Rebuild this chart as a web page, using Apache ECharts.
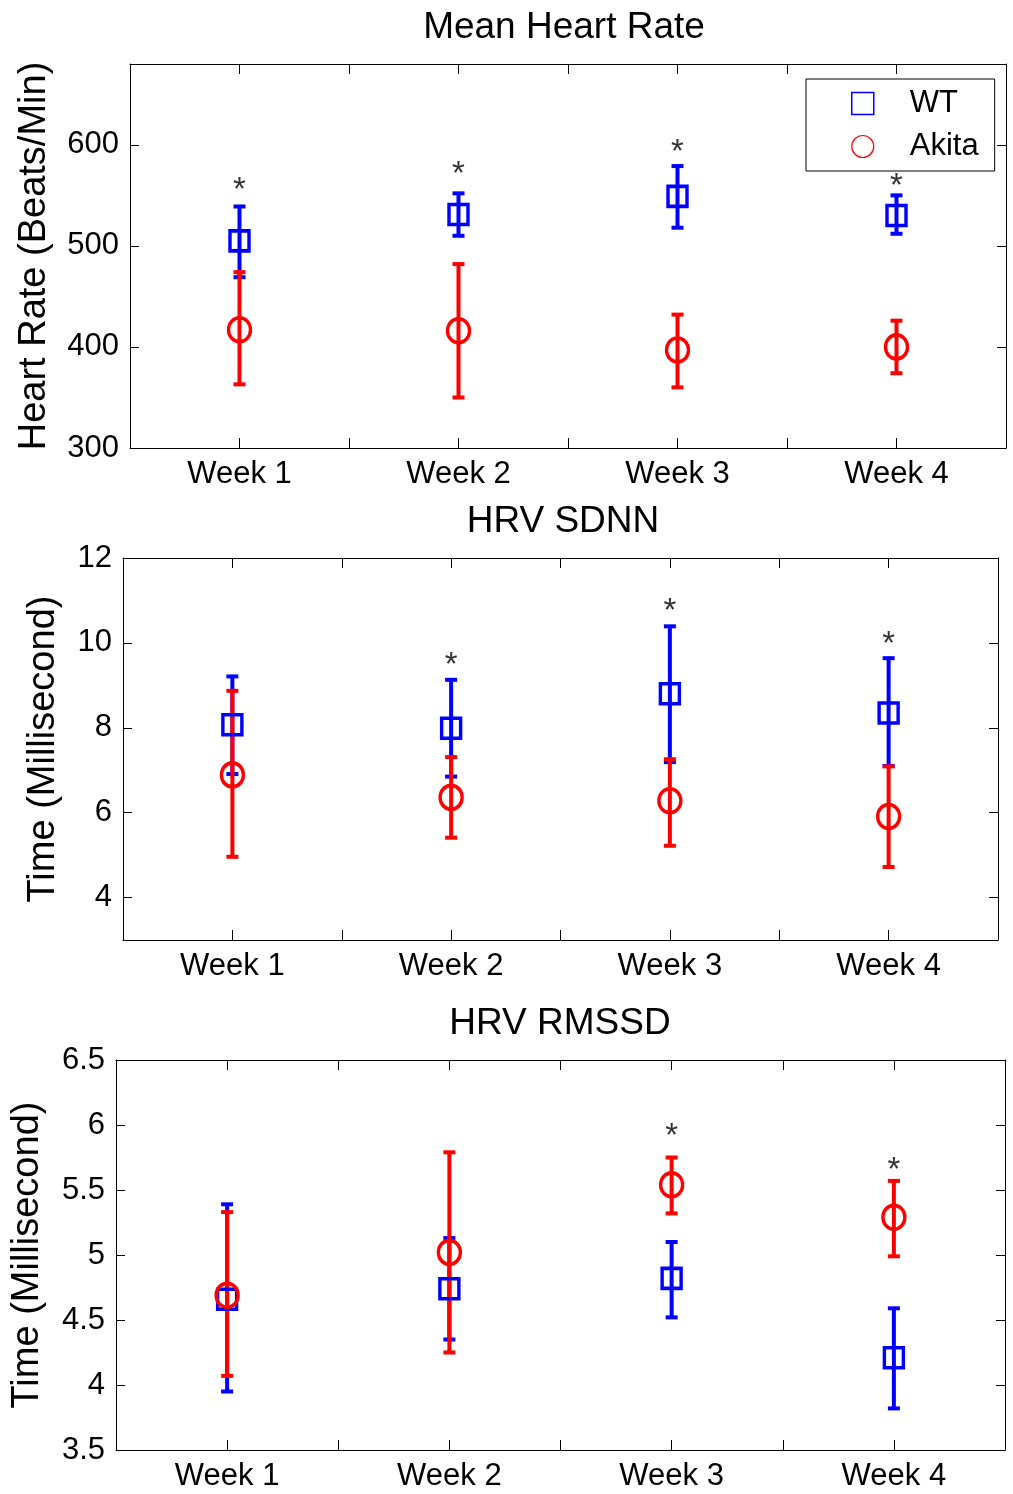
<!DOCTYPE html>
<html>
<head>
<meta charset="utf-8">
<script src="https://cdn.jsdelivr.net/npm/echarts@6/dist/echarts.min.js"></script>
<style>
html,body{margin:0;padding:0;background:#fff;}
#chart{width:1013px;height:1494px;}
</style>
</head>
<body>
<div id="chart"></div>
<script>
// ---------- data ----------
const weeks = ['Week 1', 'Week 2', 'Week 3', 'Week 4'];
const weekPos = [1, 2, 3, 4];
const seriesNames = ['WT', 'Akita'];

// Mean Heart Rate (Beats/Min)
const hrWtMean = [505, 531, 549, 530];
const hrWtLow  = [469, 510, 518, 512];
const hrWtHigh = [539, 552, 579, 550];
const hrAkMean = [417, 416, 397, 400];
const hrAkLow  = [363, 350, 360, 374];
const hrAkHigh = [474, 482, 432, 426];
const hrSig    = [562, 578, 600, 566];
const hrTicks  = [300, 400, 500, 600];

// HRV SDNN (ms)
const sdWtMean = [8.07, 7.99, 8.80, 8.35];
const sdWtLow  = [6.91, 6.85, 7.19, 7.10];
const sdWtHigh = [9.21, 9.13, 10.39, 9.64];
const sdAkMean = [6.89, 6.36, 6.28, 5.91];
const sdAkLow  = [4.96, 5.41, 5.22, 4.72];
const sdAkHigh = [8.87, 7.31, 7.26, 7.09];
const sdSig    = [null, 9.65, 10.93, 10.14];
const sdTicks  = [4, 6, 8, 10, 12];

// HRV RMSSD (ms)
const rmWtMean = [4.66, 4.74, 4.82, 4.21];
const rmWtLow  = [3.95, 4.35, 4.52, 3.82];
const rmWtHigh = [5.39, 5.13, 5.10, 4.59];
const rmAkMean = [4.69, 5.02, 5.54, 5.29];
const rmAkLow  = [4.07, 4.25, 5.32, 4.99];
const rmAkHigh = [5.33, 5.79, 5.75, 5.57];
const rmSig    = [null, null, 5.97, 5.71];
const rmTicks  = [3.5, 4, 4.5, 5, 5.5, 6, 6.5];

// ---------- styling ----------
const FONT = "'Liberation Sans', Arial, sans-serif";
const BLUE = '#0000FF';
const RED = '#FF0000';

const panels = [
  { title: 'Mean Heart Rate', yName: 'Heart Rate (Beats/Min)',
    grid: {left: 130, top: 64, width: 876, height: 384},
    yMin: 300, yMax: 680, ticks: hrTicks, nameGap: 76, titleX: 559, titleTop: 4,
    wt: [hrWtMean, hrWtLow, hrWtHigh], ak: [hrAkMean, hrAkLow, hrAkHigh], sig: hrSig },
  { title: 'HRV SDNN', yName: 'Time (Millisecond)',
    grid: {left: 123, top: 558, width: 875, height: 382},
    yMin: 3, yMax: 12, ticks: sdTicks, nameGap: 60, titleX: 558, titleTop: 498,
    wt: [sdWtMean, sdWtLow, sdWtHigh], ak: [sdAkMean, sdAkLow, sdAkHigh], sig: sdSig },
  { title: 'HRV RMSSD', yName: 'Time (Millisecond)',
    grid: {left: 116, top: 1060, width: 889, height: 390},
    yMin: 3.5, yMax: 6.5, ticks: rmTicks, nameGap: 69, titleX: 555, titleTop: 1000,
    wt: [rmWtMean, rmWtLow, rmWtHigh], ak: [rmAkMean, rmAkLow, rmAkHigh], sig: rmSig }
];

const grids = [], xAxes = [], yAxes = [], series = [], titles = [];

function errRender(color) {
  return function (params, api) {
    const x = api.value(0);
    const lo = api.coord([x, api.value(1)]);
    const hi = api.coord([x, api.value(2)]);
    const cw = 6;
    const st = {stroke: color, lineWidth: 4, lineCap: 'butt'};
    return {
      type: 'group',
      children: [
        {type: 'line', shape: {x1: lo[0], y1: lo[1], x2: hi[0], y2: hi[1]}, style: st},
        {type: 'line', shape: {x1: hi[0] - cw, y1: hi[1], x2: hi[0] + cw, y2: hi[1]}, style: st},
        {type: 'line', shape: {x1: lo[0] - cw, y1: lo[1], x2: lo[0] + cw, y2: lo[1]}, style: st}
      ]
    };
  };
}

panels.forEach((p, i) => {
  grids.push(Object.assign({containLabel: false}, p.grid));
  titles.push({
    text: p.title, left: p.titleX, top: p.titleTop, textAlign: 'center',
    textStyle: {fontFamily: FONT, fontSize: 37, fontWeight: 'normal', color: '#000'}
  });
  const xBase = {
    type: 'value', gridIndex: i, min: 0.5, max: 4.5, interval: 0.5,
    axisLine: {show: true, lineStyle: {color: '#000', width: 1}},
    axisTick: {show: true, inside: true, length: 10, lineStyle: {color: '#000', width: 1}},
    splitLine: {show: false}
  };
  xAxes.push(Object.assign({}, xBase, {
    position: 'bottom',
    axisLabel: {
      show: true, margin: 11, color: '#000', fontFamily: FONT, fontSize: 31,
      formatter: v => (Number.isInteger(v) && v >= 1 && v <= 4) ? weeks[v - 1] : ''
    }
  }));
  xAxes.push(Object.assign({}, xBase, {position: 'top', axisLabel: {show: false}}));

  const yBase = {
    type: 'value', gridIndex: i, min: p.yMin, max: p.yMax,
    axisLine: {show: true, lineStyle: {color: '#000', width: 1}},
    axisTick: {show: true, inside: true, length: 9, customValues: p.ticks, lineStyle: {color: '#000', width: 1}},
    splitLine: {show: false}
  };
  yAxes.push(Object.assign({}, yBase, {
    position: 'left',
    name: p.yName, nameLocation: 'middle', nameGap: p.nameGap, nameRotate: 90,
    nameTextStyle: {fontFamily: FONT, fontSize: 38, color: '#000'},
    axisLabel: {show: true, margin: 11, color: '#000', fontFamily: FONT, fontSize: 31, customValues: p.ticks}
  }));
  yAxes.push(Object.assign({}, yBase, {position: 'right', axisLabel: {show: false}}));

  const xi = i * 2, yi = i * 2;
  const groups = [
    {name: 'WT', color: BLUE, d: p.wt, symbol: 'rect', size: [19, 20]},
    {name: 'Akita', color: RED, d: p.ak, symbol: 'circle', size: [22, 24]}
  ];
  groups.forEach(g => {
    series.push({
      type: 'custom', name: g.name, xAxisIndex: xi, yAxisIndex: yi,
      renderItem: errRender(g.color), itemStyle: {color: g.color},
      encode: {x: 0, y: [1, 2]},
      data: weekPos.map((x, k) => [x, g.d[1][k], g.d[2][k]]),
      silent: true, z: 2
    });
    series.push({
      type: 'scatter', name: g.name, xAxisIndex: xi, yAxisIndex: yi,
      symbol: g.symbol, symbolSize: g.size,
      itemStyle: {color: 'rgba(0,0,0,0)', borderColor: g.color, borderWidth: 3.5, opacity: 1},
      data: weekPos.map((x, k) => [x, g.d[0][k]]),
      silent: true, z: 3
    });
  });
  series.push({
    type: 'scatter', name: 'sig', xAxisIndex: xi, yAxisIndex: yi,
    symbolSize: 1, itemStyle: {color: 'rgba(0,0,0,0)'},
    data: weekPos.map((x, k) => [x, p.sig[k]]).filter(d => d[1] !== null),
    label: {show: true, position: 'inside', formatter: '*', offset: [0, 8],
      fontFamily: FONT, fontSize: 33, color: '#000'},
    silent: true, z: 4
  });
});

const chart = echarts.init(document.getElementById('chart'), null, {renderer: 'canvas'});
chart.setOption({
  backgroundColor: '#fff',
  animation: false,
  title: titles,
  grid: grids,
  xAxis: xAxes,
  yAxis: yAxes,
  legend: {
    show: true, left: 806, top: 79, orient: 'vertical',
    data: [
      {name: 'WT', icon: 'rect', itemStyle: {color: '#fff', borderColor: BLUE, borderWidth: 1.5}},
      {name: 'Akita', icon: 'circle', itemStyle: {color: '#fff', borderColor: RED, borderWidth: 1.2}}
    ],
    itemWidth: 22, itemHeight: 22, itemGap: 12,
    padding: [9, 16, 9, 45],
    backgroundColor: '#fff', borderColor: '#000', borderWidth: 1,
    textStyle: {fontFamily: FONT, fontSize: 31, color: '#000', padding: [0, 0, 0, 31]},
    selectedMode: false
  },
  series: series
});
</script>
</body>
</html>
